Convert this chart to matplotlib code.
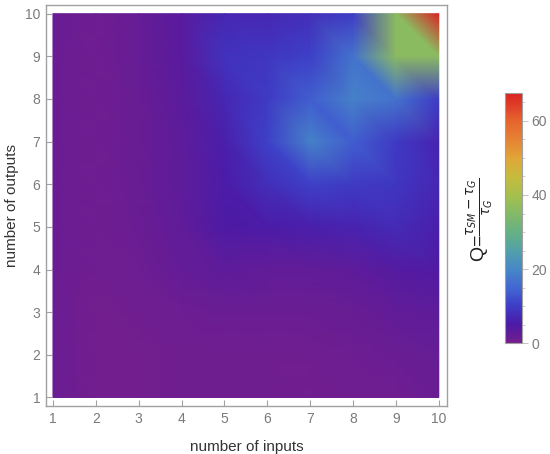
import numpy as np
import matplotlib
matplotlib.use("Agg")
import matplotlib.pyplot as plt
import matplotlib.tri as mtri
from matplotlib.colors import LinearSegmentedColormap, Normalize

plt.rcParams["font.family"] = ["Liberation Sans", "DejaVu Sans"]

inputs = [1, 2, 3, 4, 5, 6, 7, 8, 9, 10]
outputs = [1, 2, 3, 4, 5, 6, 7, 8, 9, 10]

# Q values, one row per number of outputs (1 .. 10), columns = number of inputs
q_rows = [
    [1.5, 0.5, 0.5, 0.8, 1.0, 0.8, 0.7, 0.8, 1.0, 1.5],
    [1.5, 0.5, 0.5, 0.8, 1.0, 1.0, 1.0, 1.2, 1.5, 2.0],
    [1.5, 0.5, 0.8, 1.2, 1.5, 1.5, 1.5, 1.8, 2.5, 3.0],
    [1.5, 0.8, 1.2, 2.3, 3.0, 2.5, 2.5, 3.0, 4.0, 4.5],
    [1.5, 0.8, 1.5, 2.8, 5.0, 5.5, 6.0, 6.5, 7.5, 6.0],
    [1.5, 0.8, 1.7, 3.0, 5.5, 8.0, 10.5, 9.5, 9.0, 7.0],
    [1.5, 0.8, 1.8, 3.0, 6.0, 10.5, 19.0, 14.0, 9.5, 6.5],
    [1.5, 0.8, 1.8, 3.2, 7.0, 9.5, 14.0, 19.0, 17.0, 10.0],
    [1.5, 0.8, 2.0, 3.5, 8.5, 9.0, 10.5, 17.0, 36.0, 36.0],
    [1.8, 0.8, 2.0, 3.5, 7.0, 7.0, 8.0, 10.0, 36.0, 67.5],
]

q_max = 67.5

# colour scheme similar to Mathematica "Rainbow"
stops = [
    (0.0, (0.46, 0.12, 0.55)),
    (0.074, (0.30, 0.10, 0.65)),
    (0.148, (0.24, 0.24, 0.78)),
    (0.222, (0.26, 0.40, 0.82)),
    (0.296, (0.28, 0.53, 0.78)),
    (0.370, (0.32, 0.63, 0.67)),
    (0.444, (0.40, 0.69, 0.52)),
    (0.519, (0.52, 0.73, 0.40)),
    (0.593, (0.65, 0.75, 0.30)),
    (0.667, (0.78, 0.73, 0.24)),
    (0.741, (0.88, 0.65, 0.22)),
    (0.815, (0.90, 0.51, 0.20)),
    (0.889, (0.90, 0.39, 0.18)),
    (1.0, (0.86, 0.14, 0.14)),
]
cmap = LinearSegmentedColormap.from_list("rainbow_m", stops)

X, Y = np.meshgrid(inputs, outputs)
Z = np.array(q_rows)
nx = len(inputs)
ny = len(outputs)

# split every grid cell along its anti-diagonal
triangles = []
for j in range(ny - 1):
    for i in range(nx - 1):
        a = j * nx + i
        b = a + 1
        c = a + nx
        d = c + 1
        triangles.append([a, b, c])
        triangles.append([b, d, c])
tri = mtri.Triangulation(X.ravel(), Y.ravel(), triangles)

fig = plt.figure(figsize=(5.5, 4.54), dpi=100)
ax = fig.add_axes([0.0836, 0.1057, 0.729, 0.883])
norm = Normalize(vmin=0, vmax=q_max)
tpc = ax.tripcolor(tri, Z.ravel(), shading="gouraud", cmap=cmap, norm=norm)

ax.set_xlim(0.837, 10.19)
ax.set_ylim(0.80, 10.2)
ax.set_xticks(inputs)
ax.set_yticks(outputs)

frame_col = "#a0a0a0"
for s in ax.spines.values():
    s.set_color(frame_col)
    s.set_linewidth(1.0)
ax.tick_params(direction="in", length=4, width=0.8, color=frame_col,
               labelcolor="#7a7a7a", labelsize=10, pad=4)

ax.set_xlabel("number of inputs", fontsize=11, color="#333333")
ax.set_ylabel("number of outputs", fontsize=11, color="#333333")
ax.xaxis.set_label_coords(0.5, -0.085)
ax.yaxis.set_label_coords(-0.068, 0.5)

# colour bar
cax = fig.add_axes([0.918, 0.2434, 0.031, 0.552])
cb = fig.colorbar(tpc, cax=cax, ticks=[0, 20, 40, 60])
cb.outline.set_edgecolor(frame_col)
cb.outline.set_linewidth(0.8)
cax.yaxis.set_minor_locator(matplotlib.ticker.MultipleLocator(5))
cax.tick_params(which="major", length=4, width=0.6, color="#bbbbbb",
                labelcolor="#7a7a7a", labelsize=10, pad=3)
cax.tick_params(which="minor", length=2, width=0.5, color="#bbbbbb")

fig.text(0.872, 0.515, r"Q=$\frac{\tau_{SM}-\tau_G}{\tau_G}$",
         rotation=90, ha="center", va="center", fontsize=14, color="#222222")

fig.savefig("out.png", dpi=100)
